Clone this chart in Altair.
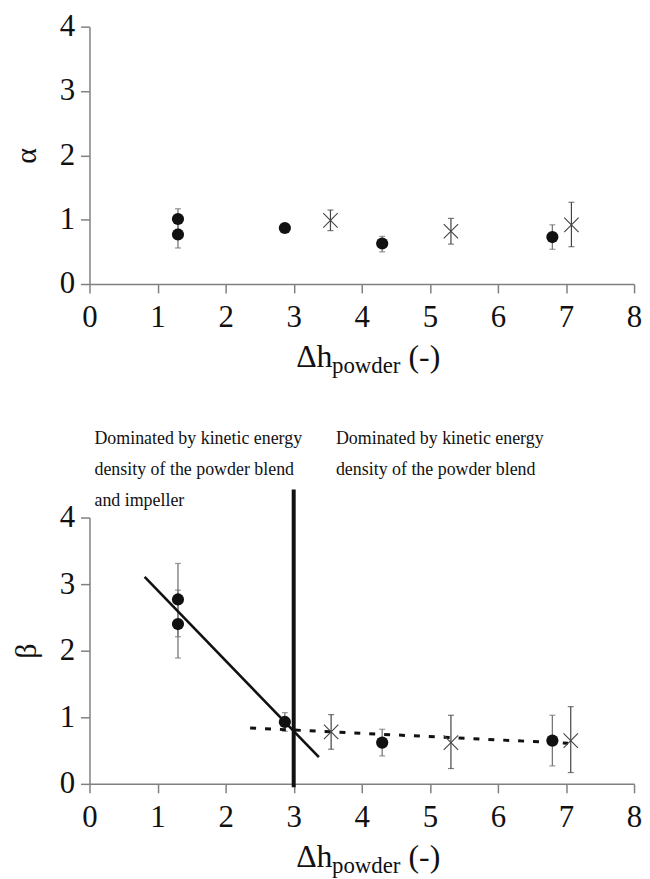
import altair as alt
import pandas as pd

# ---------------- data ----------------
top_circle_x = [1.3, 1.3, 2.87, 4.3, 6.8]
top_circle_y = [1.01, 0.77, 0.87, 0.63, 0.73]
top_circle_lo = [0.85, 0.56, 0.83, 0.50, 0.54]
top_circle_hi = [1.17, 0.95, 0.91, 0.74, 0.92]

top_cross_x = [3.54, 5.31, 7.08]
top_cross_y = [0.99, 0.82, 0.92]
top_cross_lo = [0.83, 0.62, 0.58]
top_cross_hi = [1.15, 1.02, 1.27]

bot_circle_x = [1.3, 1.3, 2.87, 4.3, 6.8]
bot_circle_y = [2.77, 2.40, 0.93, 0.62, 0.65]
bot_circle_lo = [2.21, 1.89, 0.79, 0.42, 0.27]
bot_circle_hi = [3.31, 2.91, 1.07, 0.82, 1.03]

bot_cross_x = [3.55, 5.31, 7.07]
bot_cross_y = [0.78, 0.62, 0.65]
bot_cross_lo = [0.52, 0.23, 0.17]
bot_cross_hi = [1.04, 1.03, 1.16]

solid_fit_x = [0.81, 3.37]
solid_fit_y = [3.11, 0.40]
dashed_fit_x = [2.36, 7.03]
dashed_fit_y = [0.84, 0.61]

divider_x = [3.0]
divider_y = [-0.05]
divider_y2 = [4.42]

x_ticks = [0, 1, 2, 3, 4, 5, 6, 7, 8]
y_ticks = [0, 1, 2, 3, 4]

left_note = ["Dominated by kinetic energy", "density of the powder blend", "and impeller"]
right_note = ["Dominated by kinetic energy", "density of the powder blend"]

FONT = "Liberation Serif"
W = 548
H_TOP = 259
H_BOT = 268

xscale = alt.Scale(domain=[0, 8], nice=False)
yscale = alt.Scale(domain=[0, 4], nice=False)
xaxis = alt.Axis(values=x_ticks, title=None, format="d", labelPadding=10)


def xtitle_layers(h):
    base_y = h + 84
    parts = [
        ("Δh", 208, base_y, 32),
        ("powder", 244, base_y + 6, 23),
        ("(-)", 321, base_y, 32),
    ]
    layers = []
    for txt, px, py, fs in parts:
        layers.append(
            alt.Chart(pd.DataFrame({"t": [txt]}))
            .mark_text(align="left", baseline="alphabetic", font=FONT,
                       fontSize=fs, color="#111")
            .encode(x=alt.value(px), y=alt.value(py), text="t:N")
        )
    return layers


def panel(cx, cy, clo, chi, kx, ky, klo, khi, ytitle, h, extra_before=None, extra_after=None):
    circ = pd.DataFrame({"x": cx, "y": cy, "lo": clo, "hi": chi})
    cross = pd.DataFrame({"x": kx, "y": ky, "lo": klo, "hi": khi})
    yaxis = alt.Axis(values=y_ticks, title=ytitle, format="d")

    X = alt.X("x:Q", scale=xscale, axis=xaxis)

    def Yf(f):
        return alt.Y(f + ":Q", scale=yscale, axis=yaxis)

    layers = []
    # error bars (circles)
    layers.append(alt.Chart(circ).mark_rule(color="#777", strokeWidth=1.3)
                  .encode(x=X, y=Yf("lo"), y2="hi:Q"))
    for f in ("lo", "hi"):
        layers.append(alt.Chart(circ).mark_point(shape="stroke", size=36, color="#777", strokeWidth=1.3)
                      .encode(x=X, y=Yf(f)))
    # error bars (crosses)
    layers.append(alt.Chart(cross).mark_rule(color="#444", strokeWidth=1.2)
                  .encode(x=X, y=Yf("lo"), y2="hi:Q"))
    for f in ("lo", "hi"):
        layers.append(alt.Chart(cross).mark_point(shape="stroke", size=36, color="#444", strokeWidth=1.2)
                      .encode(x=X, y=Yf(f)))
    if extra_before:
        layers.extend(extra_before(X, Yf))
    # markers
    layers.append(alt.Chart(circ).mark_point(shape="circle", filled=True, size=150,
                                             color="#111", opacity=1)
                  .encode(x=X, y=Yf("y")))
    layers.append(alt.Chart(cross).mark_point(shape="M-1,-1L1,1M-1,1L1,-1", filled=False,
                                              size=210, color="#444", strokeWidth=1.1, opacity=1)
                  .encode(x=X, y=Yf("y")))
    if extra_after:
        layers.extend(extra_after(X, Yf))
    layers.extend(xtitle_layers(h))
    return alt.layer(*layers).properties(width=W, height=h)


top = panel(top_circle_x, top_circle_y, top_circle_lo, top_circle_hi,
            top_cross_x, top_cross_y, top_cross_lo, top_cross_hi, "α", H_TOP)

# bottom extras
solid_df = pd.DataFrame({"x": solid_fit_x, "y": solid_fit_y})
dashed_df = pd.DataFrame({"x": dashed_fit_x, "y": dashed_fit_y})
div_df = pd.DataFrame({"x": divider_x, "y": divider_y, "y2": divider_y2})


def bottom_before(X, Yf):
    return [alt.Chart(dashed_df).mark_line(color="#111", strokeWidth=3, strokeDash=[6, 9])
            .encode(x=X, y=Yf("y"))]


def bottom_after(X, Yf):
    out = [
        alt.Chart(solid_df).mark_line(color="#111", strokeWidth=2.6).encode(x=X, y=Yf("y")),
        alt.Chart(div_df).mark_rule(color="#111", strokeWidth=4).encode(x=X, y=Yf("y"), y2="y2:Q"),
    ]
    for i, t in enumerate(left_note):
        out.append(alt.Chart(pd.DataFrame({"t": [t]})).mark_text(
            align="left", baseline="middle", font=FONT, fontSize=18, color="#111")
            .encode(x=alt.value(5), y=alt.value(-79 + 31 * i), text="t:N"))
    for i, t in enumerate(right_note):
        out.append(alt.Chart(pd.DataFrame({"t": [t]})).mark_text(
            align="left", baseline="middle", font=FONT, fontSize=18, color="#111")
            .encode(x=alt.value(248), y=alt.value(-79 + 31 * i), text="t:N"))
    return out


bottom = panel(bot_circle_x, bot_circle_y, bot_circle_lo, bot_circle_hi,
               bot_cross_x, bot_cross_y, bot_cross_lo, bot_cross_hi, "β", H_BOT,
               extra_before=bottom_before, extra_after=bottom_after)

chart = alt.vconcat(top, bottom, spacing=235, bounds="flush").properties(
    padding={"left": 3, "top": 0, "right": 0, "bottom": 0}
).configure_view(stroke=None).configure_axis(
    domainColor="#808080", tickColor="#808080", domainWidth=1.5, tickWidth=1.5,
    tickSize=9, labelFont=FONT, labelFontSize=31, labelColor="#111",
    labelPadding=6, grid=False, titleFont=FONT, titleFontSize=30,
    titleFontWeight="normal", titleColor="#111", titlePadding=18,
    labelFlush=False, labelOverlap=False
)

chart.save("out.html", embed_options={"renderer": "svg", "actions": False})
